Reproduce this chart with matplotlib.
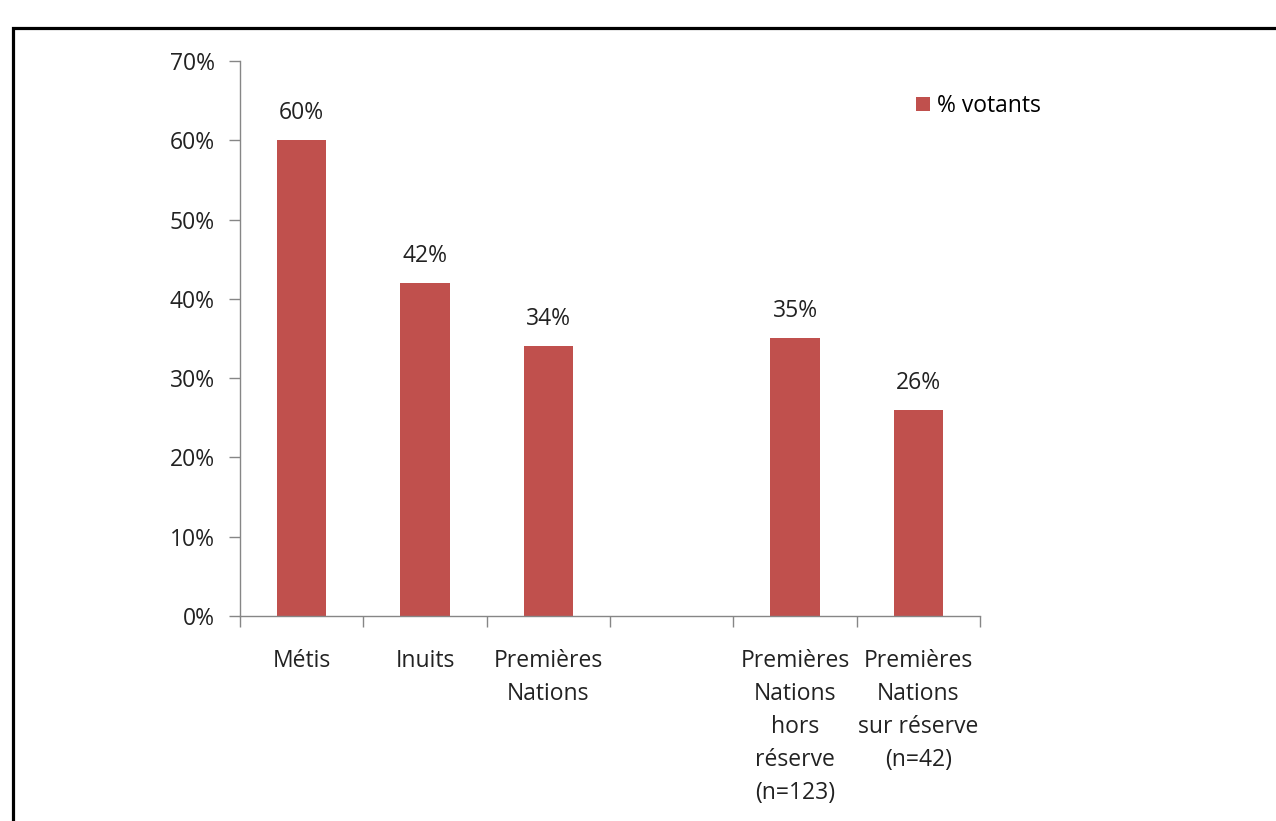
import matplotlib.pyplot as plt
import matplotlib.patches as patches
from matplotlib.ticker import PercentFormatter

# data
categories = ['Métis', 'Inuits', 'Premières\nNations', '',
              'Premières\nNations\nhors\nréserve\n(n=123)',
              'Premières\nNations\nsur réserve\n(n=42)']
votants = [60, 42, 34, None, 35, 26]
series_name = '% votants'

plt.rcParams['font.family'] = ['Open Sans', 'DejaVu Sans']

fig = plt.figure(figsize=(12.76, 8.21), dpi=100)
fig.patch.set_facecolor('white')
ax = fig.add_axes([240 / 1276, 1 - 616 / 821, 740 / 1276, 555 / 821])

bar_color = '#C0504D'
txt_color = '#222222'
fs = 16.5
xs = [i for i, v in enumerate(votants) if v is not None]
vals = [v for v in votants if v is not None]
bars = ax.bar(xs, vals, width=0.4, color=bar_color, label=series_name, zorder=2)
for x, v in zip(xs, vals):
    ax.annotate(f'{v}%', (x, v), xytext=(0, 11), textcoords='offset points',
                ha='center', va='bottom', fontsize=fs, color=txt_color)

ax.set_xlim(-0.5, len(categories) - 0.5)
ax.set_ylim(0, 70)
ax.set_yticks(range(0, 71, 10))
ax.yaxis.set_major_formatter(PercentFormatter(decimals=0))

ax.set_xticks([i for i in range(len(categories))])
ax.set_xticklabels(categories, linespacing=1.5)
ax.set_xticks([i - 0.5 for i in range(len(categories) + 1)], minor=True)
ax.tick_params(axis='x', which='major', length=0, pad=24, labelsize=fs, colors=txt_color)
ax.tick_params(axis='x', which='minor', length=8, width=1, color='#868686', direction='out')
ax.tick_params(axis='y', length=8, width=1, color='#868686', labelsize=fs, labelcolor=txt_color, pad=10)

for s in ['top', 'right']:
    ax.spines[s].set_visible(False)
for s in ['left', 'bottom']:
    ax.spines[s].set_color('#868686')
    ax.spines[s].set_linewidth(1)

fig.legend(handles=[bars], labels=[series_name], loc='center left',
           bbox_to_anchor=(900 / 1276, 1 - 106 / 821), frameon=False,
           fontsize=fs, handlelength=0.6, handleheight=0.6, handletextpad=0.3,
           borderpad=0.2)

# frame around the chart
frame = patches.Rectangle((13 / 1276, -0.1), 1.1, 1.1 - 28 / 821,
                          transform=fig.transFigure, fill=False,
                          edgecolor='black', linewidth=2.3, clip_on=False)
fig.patches.append(frame)

fig.savefig('out.png', dpi=100)
